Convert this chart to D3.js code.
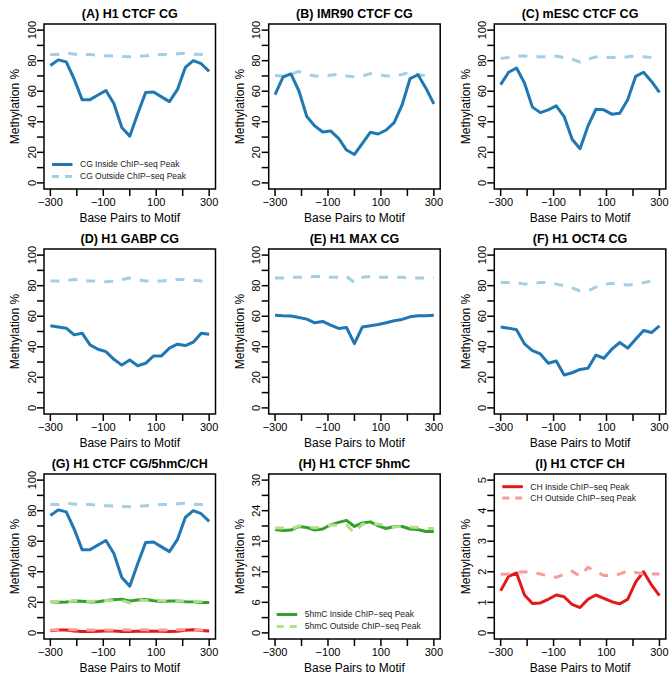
<!DOCTYPE html>
<html>
<head>
<meta charset="utf-8">
<script src="https://cdn.jsdelivr.net/npm/d3@7"></script>
<style>
  body {margin:0; background:#fff;}
  svg {display:block;}
  text {font-family:"Liberation Sans", Arial, Helvetica, sans-serif; fill:#000;}
</style>
</head>
<body>
<svg id="holder"></svg>
<script>
// base pairs to motif (x values shared by every series)
var bp=[-300,-270,-240,-210,-180,-150,-120,-90,-60,-30,0,30,60,90,120,150,180,210,240,270,300];

// CG methylation, inside / outside ChIP-seq peak
var h1_ctcf_in   =[76.8,80.5,79.2,68,54.5,54.5,57.5,60.5,52,36.2,30.6,45.2,59.2,59.5,56.3,53.2,61,75.6,80,78,73];
var h1_ctcf_out  =[84,84,85,84.2,84,84,83.5,83.2,83,82.8,82.5,82.8,83.2,83.8,84,84,84.5,84.8,84.3,84,83.8];
var imr90_ctcf_in=[57.7,69.3,71.3,60.3,43.4,37.3,33.3,34,29.2,21.5,18.6,25.9,33.1,32,34.6,39.5,51,68.2,70.8,62,51.7];
var imr90_ctcf_out=[70.3,70,71,73,71,70,70,70.5,71,70,69.5,70,71.5,71,70,70,71,72.5,71,70,70];
var mesc_ctcf_in =[64.3,72.4,75.2,65.4,49.6,46,47.8,50.4,43.4,28.5,22.4,37.3,48.2,47.8,45,45.6,54.4,69.7,72.4,66.4,59.2];
var mesc_ctcf_out=[81.5,82,83,83,82.5,82.5,82.5,83,82,81,79,81,82.5,82,82,82,82.5,83,82.5,82,81.5];
var h1_gabp_in   =[53.7,52.9,52.2,47.8,48.9,41.2,38.4,36.8,31.8,28,31.4,27.6,29.2,34,34,39.1,41.7,40.8,43,48.9,48.2];
var h1_gabp_out  =[83,83,83.5,84,83.5,83,83,82.5,83,84,85,84,83,83,83,83.5,84,84,83.5,83,83];
var h1_max_in    =[60.7,60.3,60.1,59.2,58.1,55.7,56.6,54.2,52,52.6,42.1,53,53.7,54.6,55.7,57,57.9,59.6,60.3,60.3,60.7];
var h1_max_out   =[85,85,85.5,85.5,85.5,86,86,85.5,85.5,86,82,85.5,86,85.5,85.5,85.5,85.5,85,85,85,85];
var h1_oct4_in   =[52.9,52.2,51.1,41.9,37.5,35.3,29.2,30.7,21.5,23,25.2,25.9,34.6,32.5,38.4,42.8,39.1,45,50.7,49.3,53.7];
var h1_oct4_out  =[82,82,82,81,81.5,82,82,81,80,78.5,76.5,76.5,79,81,81.5,81,80.5,81,82,83,82.5];

// H1 CTCF 5hmC and CH
var h1_5hmc_in   =[20.3,20.1,20.2,20.9,20.7,20.2,20.4,21.2,21.7,22.1,20.9,21.6,21.8,21,20.5,20.9,20.9,20.4,20.3,19.9,19.9];
var h1_5hmc_out  =[20.6,20.6,20.4,21,20.9,20.6,20.9,21.2,21.1,21.2,19.6,21.4,21.2,21.4,21,20.8,20.9,20.8,20.7,20.5,20.5];
var h1_ch_in     =[1.38,1.85,1.96,1.24,0.96,0.98,1.1,1.24,1.18,0.93,0.83,1.1,1.24,1.13,1.02,0.95,1.1,1.66,2,1.57,1.22];
var h1_ch_out    =[1.92,1.93,1.98,2,1.98,1.93,1.85,1.82,1.92,2.02,1.85,2.15,2,1.88,1.88,1.93,2.03,1.98,1.92,1.93,1.93];

// axis ticks and labels
var x_ticks=[-300,-200,-100,0,100,200,300];
var x_labels=[-300,-100,100,300];
var y_ticks_pct=[0,10,20,30,40,50,60,70,80,90,100];
var y_labels_pct=[0,20,40,60,80,100];
var y_ticks_hmc=[0,3,6,9,12,15,18,21,24,27,30];
var y_labels_hmc=[0,6,12,18,24,30];
var y_ticks_ch=[0,0.5,1,1.5,2,2.5,3,3.5,4,4.5,5];
var y_labels_ch=[0,1,2,3,4,5];

var titles=['(A) H1 CTCF CG','(B) IMR90 CTCF CG','(C) mESC CTCF CG',
            '(D) H1 GABP CG','(E) H1 MAX CG','(F) H1 OCT4 CG',
            '(G) H1 CTCF CG/5hmC/CH','(H) H1 CTCF 5hmC','(I) H1 CTCF CH'];

var styles={
  cg_in:{color:'#1f78b4',dash:null},
  cg_out:{color:'#a6cee3',dash:'9,9'},
  hmc_in:{color:'#33a02c',dash:null},
  hmc_out:{color:'#b2df8a',dash:'9,9'},
  ch_in:{color:'#e31a1c',dash:null},
  ch_out:{color:'#fb9a99',dash:'9,9'}
};

var panels=[
  {series:[['cg_out',h1_ctcf_out],['cg_in',h1_ctcf_in]],ymax:100,yt:y_ticks_pct,yl:y_labels_pct,
   legend:{pos:'bottom',items:[['cg_in','CG Inside ChIP\u2212seq Peak'],['cg_out','CG Outside ChIP\u2212seq Peak']]}},
  {series:[['cg_out',imr90_ctcf_out],['cg_in',imr90_ctcf_in]],ymax:100,yt:y_ticks_pct,yl:y_labels_pct},
  {series:[['cg_out',mesc_ctcf_out],['cg_in',mesc_ctcf_in]],ymax:100,yt:y_ticks_pct,yl:y_labels_pct},
  {series:[['cg_out',h1_gabp_out],['cg_in',h1_gabp_in]],ymax:100,yt:y_ticks_pct,yl:y_labels_pct},
  {series:[['cg_out',h1_max_out],['cg_in',h1_max_in]],ymax:100,yt:y_ticks_pct,yl:y_labels_pct},
  {series:[['cg_out',h1_oct4_out],['cg_in',h1_oct4_in]],ymax:100,yt:y_ticks_pct,yl:y_labels_pct},
  {series:[['cg_out',h1_ctcf_out],['cg_in',h1_ctcf_in],['hmc_in',h1_5hmc_in],['hmc_out',h1_5hmc_out],
           ['ch_in',h1_ch_in],['ch_out',h1_ch_out]],ymax:100,yt:y_ticks_pct,yl:y_labels_pct},
  {series:[['hmc_in',h1_5hmc_in],['hmc_out',h1_5hmc_out]],ymax:30,yt:y_ticks_hmc,yl:y_labels_hmc,
   legend:{pos:'bottom',items:[['hmc_in','5hmC Inside ChIP\u2212seq Peak'],['hmc_out','5hmC Outside ChIP\u2212seq Peak']]}},
  {series:[['ch_in',h1_ch_in],['ch_out',h1_ch_out]],ymax:5,yt:y_ticks_ch,yl:y_labels_ch,
   legend:{pos:'top',items:[['ch_in','CH Inside ChIP\u2212seq Peak'],['ch_out','CH Outside ChIP\u2212seq Peak']]}}
];

var W=670, H=676;
var col_left=[44,268.7,494.3];
var row_top=[24,249,474];
var pw=171.5, ph=165;
var tick_len=7;

var svg=d3.select('#holder').attr('width',W).attr('height',H);

function fmt(v) {
  return v<0 ? '\u2212'+Math.abs(v) : String(v);
}

function draw_panel(p,ii) {
  var x0=col_left[ii%3], y0=row_top[Math.floor(ii/3)];
  var gg=svg.append('g').attr('transform','translate('+x0+','+y0+')');

  // R style: 4% padding around the data range
  var xscale=d3.scaleLinear().domain([-324,324]).range([0,pw]);
  var pad=p.ymax*0.04;
  var yscale=d3.scaleLinear().domain([-pad,p.ymax+pad]).range([ph,0]);

  // title
  gg.append('text').attr('x',pw/2).attr('y',-6)
    .attr('text-anchor','middle').style('font-size','12.5px').style('font-weight','bold')
    .text(titles[ii]);

  // series
  var line=d3.line()
    .x(function(d,i) {return xscale(bp[i]);})
    .y(function(d) {return yscale(d);});
  p.series.forEach(function(s) {
    var st=styles[s[0]];
    var path=gg.append('path').attr('d',line(s[1]))
      .attr('fill','none').attr('stroke',st.color).attr('stroke-width',3)
      .attr('stroke-linejoin','round');
    if (st.dash) path.attr('stroke-dasharray',st.dash);
  });

  // box
  gg.append('rect').attr('x',0).attr('y',0).attr('width',pw).attr('height',ph)
    .attr('fill','none').attr('stroke','#000').attr('stroke-width',1.5);

  // x axis
  gg.selectAll('.xt').data(x_ticks).enter().append('line')
    .attr('x1',function(d) {return xscale(d);}).attr('x2',function(d) {return xscale(d);})
    .attr('y1',ph).attr('y2',ph+tick_len).attr('stroke','#000').attr('stroke-width',1.5);
  gg.selectAll('.xl').data(x_labels).enter().append('text')
    .attr('x',function(d) {return xscale(d);}).attr('y',ph+12.7).attr('dy','0.36em')
    .attr('text-anchor','middle').style('font-size','11px')
    .text(fmt);
  gg.append('text').attr('x',pw/2).attr('y',ph+29).attr('dy','0.36em')
    .attr('text-anchor','middle').style('font-size','12px')
    .text('Base Pairs to Motif');

  // y axis
  gg.selectAll('.yt').data(p.yt).enter().append('line')
    .attr('x1',0).attr('x2',-tick_len)
    .attr('y1',function(d) {return yscale(d);}).attr('y2',function(d) {return yscale(d);})
    .attr('stroke','#000').attr('stroke-width',1.5);
  gg.selectAll('.yl').data(p.yl).enter().append('text')
    .attr('transform',function(d) {return 'translate('+(-12.3)+','+yscale(d)+') rotate(-90)';})
    .attr('dy','0.36em').attr('text-anchor','middle').style('font-size','11px')
    .text(fmt);
  gg.append('text')
    .attr('transform','translate('+(-29)+','+(ph/2)+') rotate(-90)')
    .attr('dy','0.36em').attr('text-anchor','middle').style('font-size','12px')
    .text('Methylation %');

  // legend
  if (p.legend) {
    var ly = p.legend.pos=='top' ? [12.7,23.9] : [ph-24.5,ph-12.5];
    p.legend.items.forEach(function(it,k) {
      var st=styles[it[0]];
      var l=gg.append('line').attr('x1',8).attr('x2',28.5).attr('y1',ly[k]).attr('y2',ly[k])
        .attr('stroke',st.color).attr('stroke-width',3);
      if (st.dash) l.attr('stroke-dasharray','7,6');
      gg.append('text').attr('x',36).attr('y',ly[k]).attr('dy','0.35em')
        .style('font-size','8.5px').style('fill','#222').text(it[1]);
    });
  }
}

panels.forEach(draw_panel);
</script>
</body>
</html>
